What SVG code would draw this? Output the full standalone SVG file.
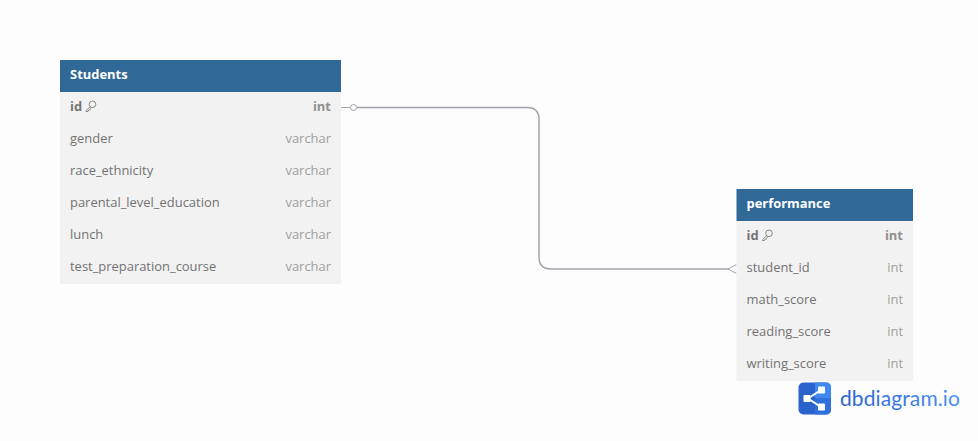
<svg xmlns="http://www.w3.org/2000/svg" width="978" height="441" viewBox="0 0 978 441">
<style>
text{font-family:"Open Sans","Noto Sans",sans-serif;font-size:12.950px;fill:#737373}
.h{fill:#fff;font-weight:700}
.b{font-weight:700;fill:#757575}
.t{text-anchor:end;fill:#a0a0a0}
.tb{text-anchor:end;fill:#8f8f8f;font-weight:700}
.head{fill:#306898}
.body{fill:#f2f2f2}
.c{fill:none;stroke:#a3a3ab;stroke-width:1.5}
.thin{fill:none;stroke:#a3a3ab;stroke-width:1}
.key{fill:none;stroke:#7d7d7d;stroke-width:.9}
</style>
<defs>
<g id="key" class="key"><circle cx="7.500" cy="3.800" r="3.300"/><path d="M5.300 6L1 10.200V11H3L3.600 9.600H4.800L5.200 8.400L6.500 7.200"/></g>
<linearGradient id="lg" x1="0" x2="1" y1="0" y2="0"><stop offset="0" stop-color="#2a63cc"/><stop offset="1" stop-color="#4a93f2"/></linearGradient>
</defs>
<rect width="978" height="441" fill="#fdfdfd"/>
<g id="connectors">
<path class="c" d="M357 107.500H527Q539 107.500 539 119.500V257Q539 269 551 269H729"/>
<path class="thin" d="M341 107.500H350.500"/>
<circle cx="353.500" cy="107.500" r="3" fill="#fdfdfd" stroke="#a3a3ab" stroke-width="1"/>
<path class="thin" d="M736.500 264.500L728 269L736.500 273.500"/>
</g>
<g id="students">
<rect class="body" x="60" y="92" width="281" height="192"/>
<rect class="head" x="60" y="60" width="281" height="32"/>
<text class="h" x="70" y="79">Students</text>
<text class="b" x="70" y="111">id</text><use href="#key" x="85" y="100.500"/><text class="tb" x="331" y="111">int</text>
<text x="70" y="143">gender</text><text class="t" x="331" y="143">varchar</text>
<text x="70" y="175">race_ethnicity</text><text class="t" x="331" y="175">varchar</text>
<text x="70" y="207">parental_level_education</text><text class="t" x="331" y="207">varchar</text>
<text x="70" y="239">lunch</text><text class="t" x="331" y="239">varchar</text>
<text x="70" y="271">test_preparation_course</text><text class="t" x="331" y="271">varchar</text>
</g>
<g id="performance">
<rect class="body" x="736.500" y="221" width="176.500" height="160"/>
<rect class="head" x="736.500" y="189" width="176.500" height="32"/>
<text class="h" x="746.500" y="208">performance</text>
<text class="b" x="746.500" y="240">id</text><use href="#key" x="761.500" y="229.500"/><text class="tb" x="903" y="240">int</text>
<text x="746.500" y="272">student_id</text><text class="t" x="903" y="272">int</text>
<text x="746.500" y="304">math_score</text><text class="t" x="903" y="304">int</text>
<text x="746.500" y="336">reading_score</text><text class="t" x="903" y="336">int</text>
<text x="746.500" y="368">writing_score</text><text class="t" x="903" y="368">int</text>
</g>
<g id="logo">
<rect x="798.500" y="382.500" width="32.500" height="32" rx="5" fill="#2a63cc"/>
<path d="M815 382.500H826Q831 382.500 831 387.500V398.500H815Z" fill="#3f88ee"/>
<path d="M815 398.500H831V409.500Q831 414.500 826 414.500H815Z" fill="#2f70dc"/>
<path d="M808 398.500L821 390M808 398.500L821 407" stroke="#fff" stroke-width="2" fill="none"/>
<rect x="803.500" y="395" width="7" height="7" rx="1" fill="#fff"/>
<rect x="818" y="386.500" width="7" height="7" rx="1" fill="#fff"/>
<rect x="818" y="403.500" width="7" height="7" rx="1" fill="#fff"/>
<text x="840" y="406" style="font-family:'Lato','Open Sans',sans-serif;font-size:21px;fill:url(#lg);letter-spacing:.1px">dbdiagram.io</text>
</g>
</svg>
